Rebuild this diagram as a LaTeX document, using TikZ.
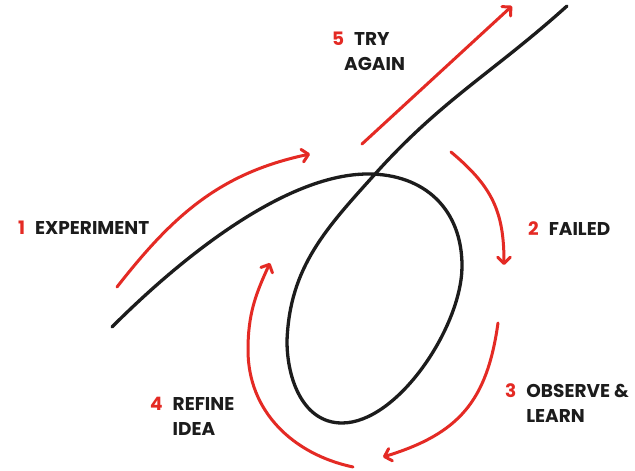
\documentclass[tikz,border=0pt]{standalone}
\usepackage{fontspec}
\setmainfont{Poppins}
\usetikzlibrary{
  arrows.meta, % for the open barbed arrow tips
}
\definecolor{cyclered}{HTML}{E42A24}
\definecolor{inkblack}{HTML}{1C1C1C}
\tikzset{
  path line/.style={ % style for the black looping path
    draw=inkblack, % nearly black
    line width=3.3pt, % a heavy stroke
    line cap=round, % soft line ends
  },
  cycle arrow/.style={ % style for the red arrows
    draw=cyclered, % red stroke
    line width=3pt, % a little lighter than the black path
    line cap=round, % soft line ends
    -{Straight Barb[angle=90:9pt, round]}, % open barbed arrow tip
  },
  stage/.style={ % style for the text of each stage
    inner sep=0pt, % no padding, so the anchors sit on the letters
    text=inkblack, % dark text
    align=left, % second lines start under the words
    font=\fontsize{18.5}{25}\selectfont\bfseries, % bold caps
  },
}
\newcommand{\stagenum}[1]{\textcolor{cyclered}{#1}\hspace{10pt}}

\begin{document}
\begin{tikzpicture}[x=1pt, y=1pt]
	\useasboundingbox (0,0) rectangle (635,471);
	\fill[white] (0,0) rectangle (635,471);
	
	% points on the black path
	\coordinate (path start) at (112,144);
	\coordinate (loop top) at (368,297);
	\coordinate (loop right) at (462,205);
	\coordinate (loop bottom) at (342,48);
	\coordinate (loop left) at (287,130);
	\coordinate (crossing) at (376,298);
	\coordinate (path end) at (567,465);
	
	% the black path with its loop
	\draw[path line] (path start) .. controls (190,222) and (290,297) .. (loop top)
		to[out=0, in=90, looseness=1.1] (loop right)
		.. controls (462,145) and (398,48) .. (loop bottom)
		to[out=180, in=-90] (loop left)
		to[out=88, in=228] (crossing)
		to[out=48, in=222] (path end);
	
	% end points of the red arrows
	\coordinate (exp start) at (117,184);
	\coordinate (exp end) at (310,317);
	\coordinate (fail start) at (451,319);
	\coordinate (fail end) at (504,206);
	\coordinate (learn start) at (498,148);
	\coordinate (learn end) at (383,14);
	\coordinate (refine start) at (353,4);
	\coordinate (refine mid) at (248,121);
	\coordinate (refine end) at (270,208);
	\coordinate (try start) at (362,327);
	\coordinate (try end) at (512,465);
	
	\draw[cycle arrow] (exp start) to[out=52, in=192] (exp end);
	\draw[cycle arrow] (fail start) to[out=-40, in=90, looseness=1.1] (fail end);
	\draw[cycle arrow] (learn start) to[out=-98, in=17, looseness=1.15] (learn end);
	\draw[cycle arrow] (refine start) to[out=168, in=-90] (refine mid)
		to[out=90, in=245] (refine end);
	\draw[cycle arrow] (try start) -- (try end);
	
	% the stages
	\node[stage, anchor=base west] (experiment) at (18,236) {\stagenum{1}EXPERIMENT};
	\node[stage, anchor=base west] (failed) at (528,235) {\stagenum{2}FAILED};
	\node[stage, anchor=north west] (observe) at (505,88)
		{\stagenum{3}OBSERVE \&\\\hphantom{\stagenum{3}}LEARN};
	\node[stage, anchor=north west] (refine) at (150,74)
		{\stagenum{4}REFINE\\\hphantom{\stagenum{4}}IDEA};
	\node[stage, anchor=north west] (try) at (332,439)
		{\stagenum{5}TRY\\\hphantom{5}AGAIN};
\end{tikzpicture}
\end{document}
